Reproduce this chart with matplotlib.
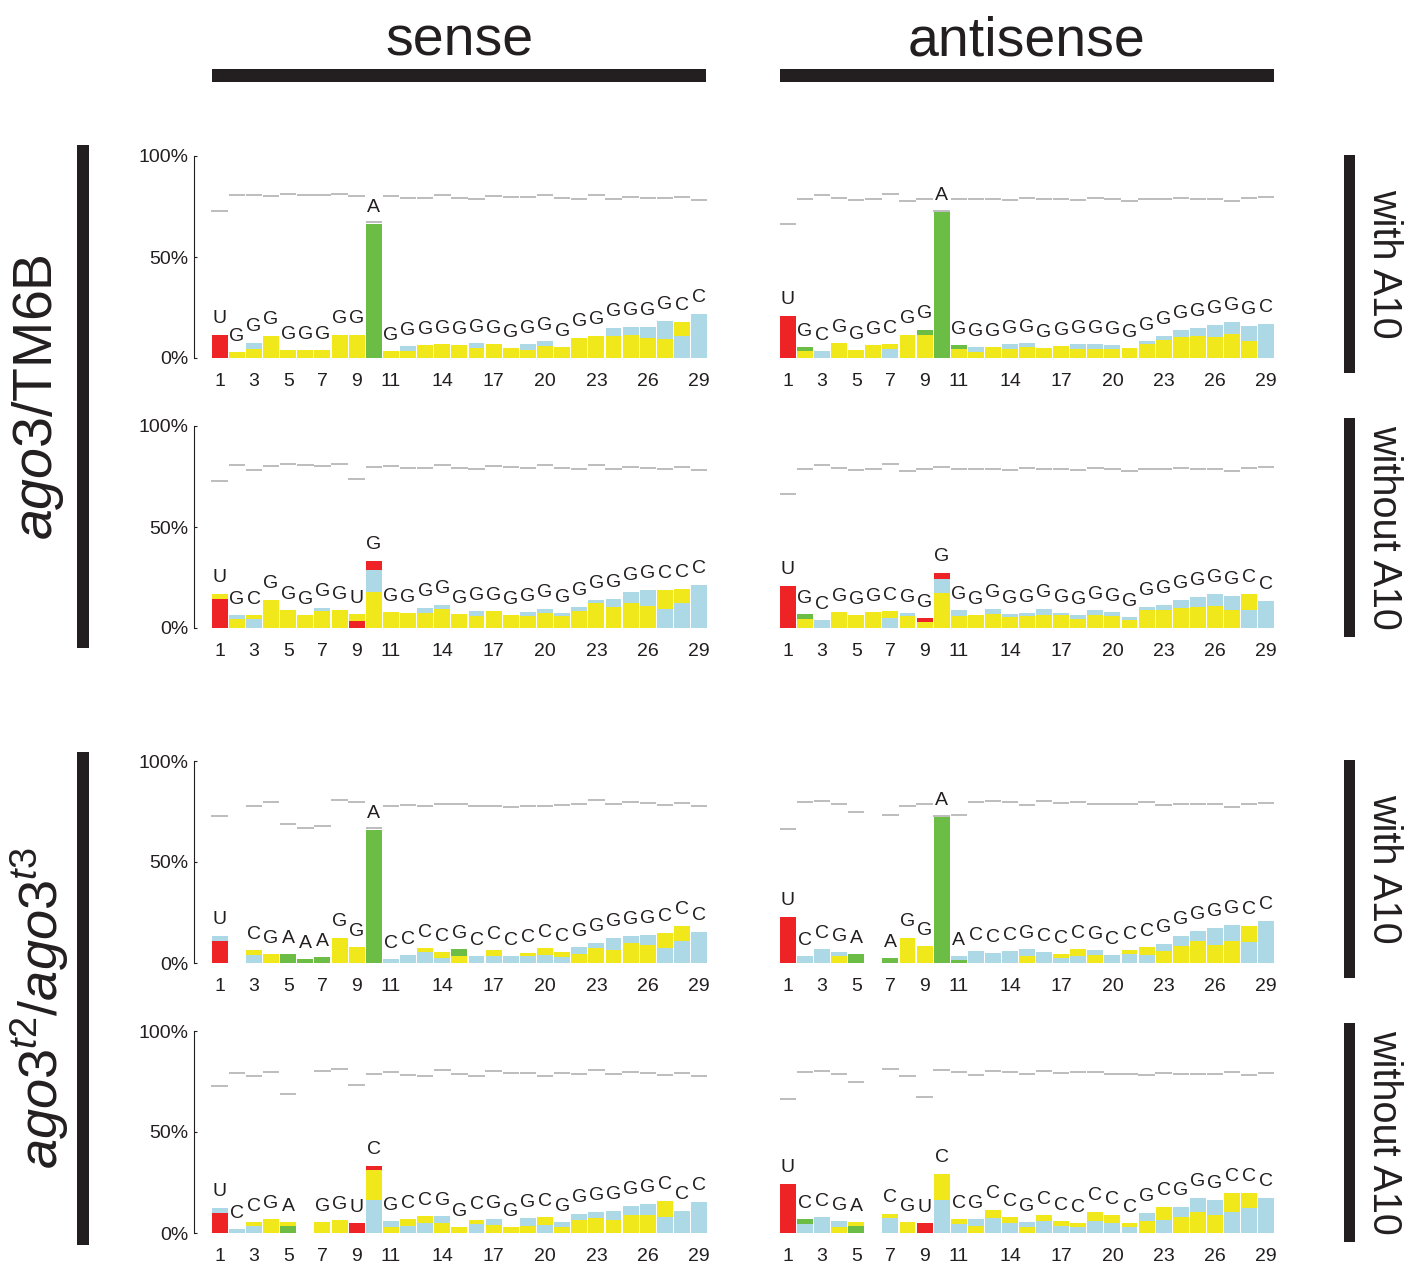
import numpy as np
import matplotlib
matplotlib.use("Agg")
import matplotlib.pyplot as plt
from matplotlib.patches import Rectangle

plt.rcParams['font.family'] = ['Liberation Sans', 'DejaVu Sans']
plt.rcParams['mathtext.fontset'] = 'custom'
plt.rcParams['mathtext.rm'] = 'Liberation Sans'
plt.rcParams['mathtext.it'] = 'Liberation Sans:italic'
plt.rcParams['mathtext.bf'] = 'Liberation Sans:bold'

# positions 1..29
positions = list(range(1, 30))
tick_pos = [1, 3, 5, 7, 9, 11, 14, 17, 20, 23, 26, 29]

# ---- ago3/TM6B, sense, with A10
tm_sw_seq = "UGGGGGGGGAGGGGGGGGGGGGGGGGGCC"
tm_sw_A = [0, 0, 0, 0, 0, 0, 0, 0, 0, 66.4, 0, 0, 0, 0, 0, 0, 0, 0, 0, 0, 0, 0, 0, 0, 0, 0, 0, 0, 0]
tm_sw_C = [0, 0, 3.0, 0, 0, 0, 0, 0, 0, 0, 0, 2.5, 0, 0, 0, 2.5, 0, 0, 3.0, 2.5, 0, 0, 0, 4.0, 3.8, 5.5, 8.8, 10.8, 21.8]
tm_sw_G = [0, 2.8, 4.5, 10.8, 3.8, 3.8, 3.8, 11.3, 11.3, 0, 3.3, 3.3, 6.3, 6.8, 6.3, 4.8, 6.8, 4.8, 3.8, 5.8, 5.3, 9.8, 10.8, 10.8, 11.5, 9.8, 9.5, 7.0, 0]
tm_sw_U = [11.3, 0, 0, 0, 0, 0, 0, 0, 0, 0, 0, 0, 0, 0, 0, 0, 0, 0, 0, 0, 0, 0, 0, 0, 0, 0, 0, 0, 0]
tm_sw_gray = [72.8, 80.9, 80.9, 80.1, 81.1, 80.6, 80.6, 81.4, 80.1, 67.1, 80.2, 79.4, 79.4, 80.7, 79.1, 78.7, 80.4, 79.6, 79.6, 80.9, 79.4, 78.9, 80.9, 78.7, 79.9, 79.4, 79.1, 79.6, 78.1]

# ---- ago3/TM6B, antisense, with A10
tm_aw_seq = "UGCGGGCGGAGGGGGGGGGGGGGGGGGGC"
tm_aw_A = [0, 2.0, 0, 0, 0, 0, 0, 0, 2.5, 72.3, 2.0, 0, 0, 0, 0, 0, 0, 0, 0, 0, 0, 0, 0, 0, 0, 0, 0, 0, 0]
tm_aw_C = [0, 0, 3.3, 0, 0, 0, 4.3, 0, 0, 0, 0, 2.5, 0, 2.5, 2.0, 0, 0, 2.5, 2.5, 2.0, 0, 1.5, 2.0, 3.5, 4.0, 6.0, 6.0, 7.5, 16.8]
tm_aw_G = [0, 3.3, 0, 7.3, 3.8, 6.3, 2.5, 11.3, 11.3, 0, 4.3, 2.8, 5.3, 4.3, 5.3, 4.8, 5.8, 4.3, 4.3, 4.3, 4.8, 6.8, 8.8, 10.3, 10.8, 10.3, 11.8, 8.3, 0]
tm_aw_U = [20.8, 0, 0, 0, 0, 0, 0, 0, 0, 0, 0, 0, 0, 0, 0, 0, 0, 0, 0, 0, 0, 0, 0, 0, 0, 0, 0, 0, 0]
tm_aw_gray = [66.3, 78.6, 80.6, 79.2, 78.2, 78.9, 81.4, 77.7, 78.7, 73.0, 78.7, 78.7, 78.9, 78.2, 79.1, 78.7, 78.6, 78.2, 79.2, 78.7, 77.9, 78.7, 78.7, 79.1, 78.9, 78.9, 77.6, 79.1, 79.6]

# ---- ago3/TM6B, sense, without A10
tm_so_seq = "UGCGGGGGUGGGGGGGGGGGGGGGGGCCC"
tm_so_A = [0] * 29
tm_so_C = [0, 2.0, 4.3, 0, 0, 0, 1.5, 0, 0, 10.9, 0, 0, 2.5, 2.0, 0, 2.5, 0, 0, 2.0, 2.0, 1.5, 2.0, 1.5, 4.0, 5.5, 8.0, 9.5, 12.3, 21.3]
tm_so_G = [2.5, 4.3, 2.0, 13.8, 8.8, 6.3, 8.3, 8.8, 3.2, 17.8, 7.8, 7.3, 7.3, 9.3, 6.8, 5.8, 8.3, 6.3, 5.8, 7.3, 5.8, 8.3, 12.3, 10.3, 12.3, 10.8, 9.3, 7.0, 0]
tm_so_U = [14.3, 0, 0, 0, 0, 0, 0, 0, 3.6, 4.5, 0, 0, 0, 0, 0, 0, 0, 0, 0, 0, 0, 0, 0, 0, 0, 0, 0, 0, 0]
tm_so_gray = [72.8, 80.9, 78.1, 80.1, 81.1, 80.6, 80.4, 81.2, 73.6, 79.6, 80.2, 79.4, 79.4, 80.7, 79.1, 78.7, 80.4, 79.6, 79.4, 80.9, 79.4, 78.9, 80.9, 78.7, 79.9, 79.4, 78.7, 79.6, 78.1]

# ---- ago3/TM6B, antisense, without A10
tm_ao_seq = "UGCGGGCGGGGGGGGGGGGGGGGGGGGCC"
tm_ao_A = [0, 2.5, 0, 0, 0, 0, 0, 0, 0, 0, 0, 0, 0, 0, 0, 0, 0, 0, 0, 0, 0, 0, 0, 0, 0, 0, 0, 0, 0]
tm_ao_C = [0, 0, 3.8, 0, 0, 0, 4.8, 1.5, 0, 7.0, 3.0, 0, 2.5, 1.5, 1.5, 3.0, 1.0, 2.0, 2.5, 2.0, 1.5, 1.5, 2.5, 4.0, 5.0, 6.0, 7.0, 8.8, 13.3]
tm_ao_G = [0, 4.3, 0, 7.8, 6.3, 7.8, 3.5, 5.8, 2.8, 17.3, 5.8, 6.3, 6.8, 5.3, 5.8, 6.3, 6.3, 4.3, 6.3, 5.8, 3.8, 8.8, 8.8, 9.8, 10.3, 10.8, 8.8, 8.0, 0]
tm_ao_U = [20.8, 0, 0, 0, 0, 0, 0, 0, 2.0, 2.9, 0, 0, 0, 0, 0, 0, 0, 0, 0, 0, 0, 0, 0, 0, 0, 0, 0, 0, 0]
tm_ao_gray = [66.3, 78.6, 80.6, 79.2, 78.2, 78.9, 81.4, 77.7, 78.7, 79.9, 78.7, 78.7, 78.9, 78.2, 79.1, 78.7, 78.6, 78.2, 79.2, 78.7, 77.9, 78.7, 78.7, 79.1, 78.9, 78.9, 77.6, 79.1, 79.6]

# ---- ago3 t2/t3, sense, with A10
t_sw_seq = "U CGAAAGGACCCCGCCCCCCGGGGGCCC"
t_sw_A = [0, 0, 0, 0, 4.3, 1.8, 2.8, 0, 0, 65.9, 0, 0, 0, 0, 3.5, 0, 0, 0, 0, 0, 0, 0, 0, 0, 0, 0, 0, 0, 0]
t_sw_C = [2.5, 0, 3.8, 0, 0, 0, 0, 0, 0, 0, 1.8, 3.8, 5.3, 2.3, 0, 3.3, 3.3, 3.3, 3.3, 3.8, 2.8, 3.5, 2.5, 6.0, 3.5, 5.0, 7.3, 10.8, 15.3]
t_sw_G = [0, 0, 2.5, 4.3, 0, 0, 0, 12.3, 7.8, 0, 0, 0, 2.0, 3.0, 3.3, 0, 3.0, 0, 1.5, 3.5, 2.5, 4.3, 7.3, 6.3, 9.8, 8.8, 7.5, 7.5, 0]
t_sw_U = [10.8, 0, 0, 0, 0, 0, 0, 0, 0, 0, 0, 0, 0, 0, 0, 0, 0, 0, 0, 0, 0, 0, 0, 0, 0, 0, 0, 0, 0]
t_sw_gray = [72.6, np.nan, 77.9, 79.9, 68.6, 66.6, 67.8, 80.9, 79.7, 66.6, 77.6, 78.1, 77.6, 78.6, 78.9, 77.7, 77.7, 77.4, 77.7, 77.7, 78.2, 78.7, 80.6, 78.6, 79.6, 79.1, 78.4, 79.2, 77.7]

# ---- ago3 t2/t3, antisense, with A10
t_aw_seq = "UCCGA AGGAACCCGCCCGCCCGGGGGCC"
t_aw_A = [0, 0, 0, 0, 4.3, 0, 2.3, 0, 0, 72.3, 1.3, 0, 0, 0, 0, 0, 0, 0, 0, 0, 0, 0, 0, 0, 0, 0, 0, 0, 0]
t_aw_C = [0, 3.3, 6.8, 2.0, 0, 0, 0, 0, 0, 0, 2.0, 5.8, 4.8, 5.8, 3.5, 5.3, 2.3, 3.3, 2.5, 3.8, 4.3, 3.8, 3.5, 5.0, 5.0, 8.5, 8.0, 10.3, 20.8]
t_aw_G = [0, 0, 0, 3.3, 0, 0, 0, 12.3, 8.3, 0, 0, 0, 0, 0, 3.3, 0, 2.0, 3.5, 3.8, 0, 2.0, 4.0, 5.8, 8.3, 10.8, 8.8, 10.8, 8.0, 0]
t_aw_U = [22.8, 0, 0, 0, 0, 0, 0, 0, 0, 0, 0, 0, 0, 0, 0, 0, 0, 0, 0, 0, 0, 0, 0, 0, 0, 0, 0, 0, 0]
t_aw_gray = [66.1, 79.7, 80.2, 78.9, 74.6, np.nan, 73.3, 77.7, 78.7, 73.0, 73.3, 79.7, 80.4, 79.6, 78.4, 80.2, 79.2, 79.7, 78.7, 78.7, 78.7, 79.7, 78.4, 78.7, 78.7, 78.6, 77.4, 78.7, 79.4]

# ---- ago3 t2/t3, sense, without A10
t_so_seq = "UCCGA GGUCGCCGGCGGGCGGGGGGCCC"
t_so_A = [0, 0, 0, 0, 3.3, 0, 0, 0, 0, 0, 0, 0, 0, 0, 0, 0, 0, 0, 0, 0, 0, 0, 0, 0, 0, 0, 0, 0, 0]
t_so_C = [2.5, 1.8, 3.3, 0, 0, 0, 0, 0, 0, 16.4, 3.0, 3.3, 4.8, 3.5, 0, 4.3, 3.0, 0, 4.0, 3.8, 2.5, 3.0, 3.0, 4.5, 4.5, 5.5, 7.8, 10.8, 15.3]
t_so_G = [0, 0, 2.0, 6.8, 2.0, 0, 5.3, 6.3, 0, 14.8, 2.8, 3.5, 3.5, 4.8, 2.8, 2.0, 3.8, 2.8, 3.3, 4.0, 2.8, 6.3, 7.3, 6.3, 8.8, 8.8, 8.0, 0, 0]
t_so_U = [9.8, 0, 0, 0, 0, 0, 0, 0, 4.8, 2.0, 0, 0, 0, 0, 0, 0, 0, 0, 0, 0, 0, 0, 0, 0, 0, 0, 0, 0, 0]
t_so_gray = [72.6, 79.4, 77.9, 79.9, 68.6, np.nan, 80.1, 81.1, 73.3, 78.6, 79.9, 78.1, 77.6, 80.6, 78.9, 77.7, 80.1, 79.4, 79.2, 77.9, 79.1, 78.6, 80.6, 78.6, 79.6, 79.1, 78.4, 79.2, 77.7]

# ---- ago3 t2/t3, antisense, without A10
t_ao_seq = "UCCGA CGUCCGCCGCCCCCCGCGGGCCC"
t_ao_A = [0, 2.5, 0, 0, 3.3, 0, 0, 0, 0, 0, 0, 0, 0, 0, 0, 0, 0, 0, 0, 0, 0, 0, 0, 0, 0, 0, 0, 0, 0]
t_ao_C = [0, 4.3, 7.8, 3.0, 0, 0, 7.3, 0, 0, 16.4, 4.3, 3.5, 7.3, 4.8, 2.5, 5.8, 3.3, 2.8, 5.8, 4.8, 2.8, 4.0, 6.3, 5.0, 7.0, 7.5, 10.3, 12.3, 17.3]
t_ao_G = [0, 0, 0, 2.8, 2.0, 0, 2.0, 5.3, 0, 12.8, 2.5, 3.3, 4.0, 3.0, 2.8, 3.0, 2.5, 2.0, 4.5, 4.0, 2.0, 5.8, 6.5, 7.8, 10.3, 8.8, 9.5, 7.5, 0]
t_ao_U = [24.3, 0, 0, 0, 0, 0, 0, 0, 4.8, 0, 0, 0, 0, 0, 0, 0, 0, 0, 0, 0, 0, 0, 0, 0, 0, 0, 0, 0, 0]
t_ao_gray = [66.1, 79.9, 80.2, 78.9, 74.6, np.nan, 81.2, 77.7, 67.3, 80.6, 79.9, 78.4, 80.4, 79.6, 78.6, 80.2, 79.2, 79.7, 79.6, 78.9, 78.9, 78.2, 79.4, 78.7, 78.7, 78.6, 79.6, 78.4, 79.2]

nuc_colors = {'A': '#6CBD45', 'C': '#ADD8E6', 'G': '#F1E81B', 'U': '#EE2326'}
gray_col = '#BDBDBD'
ink = '#231F20'

W, H = 1406, 1267
fig = plt.figure(figsize=(W / 100, H / 100), dpi=100)


def add_px_axes(x0, x1, ytop, ybot):
    return fig.add_axes([x0 / W, 1 - ybot / H, (x1 - x0) / W, (ybot - ytop) / H])


def draw_panel(ax, seq, A, C, G, U, gray, left):
    vals = {'A': A, 'C': C, 'G': G, 'U': U}
    for i, x in enumerate(positions):
        first = seq[i]
        if first == ' ':
            continue
        # letter's nucleotide at the bottom, the rest stacked largest first
        others = [n for n in 'ACGU' if n != first and vals[n][i] > 0]
        others.sort(key=lambda n: -vals[n][i])
        bottom = 0
        for n in [first] + others:
            ax.bar(x, vals[n][i], bottom=bottom, width=0.93, color=nuc_colors[n], linewidth=0)
            bottom += vals[n][i]
        ax.text(x, bottom + 5.8, first, ha='center', va='baseline', fontsize=14, color=ink)
    g = np.array(gray, dtype=float)
    ok = ~np.isnan(g)
    xs = np.array(positions)[ok]
    ax.hlines(g[ok], xs - 0.48, xs + 0.48, color=gray_col, lw=1.4, zorder=3)

    ax.set_xlim(-0.5, 29.5)
    ax.set_ylim(0, 100)
    ax.set_xticks(tick_pos)
    ax.set_xticklabels([str(t) for t in tick_pos])
    ax.tick_params(axis='x', length=0, pad=11, labelsize=14, labelcolor=ink)
    for s in ['top', 'right', 'bottom']:
        ax.spines[s].set_visible(False)
    if left:
        ax.spines['left'].set_linewidth(0.8)
        ax.spines['left'].set_color(ink)
        ax.set_yticks([0, 50, 100])
        ax.set_yticklabels(['0%', '50%', '100%'])
        ax.tick_params(axis='y', direction='in', length=2.5, width=0.8, pad=4,
                       labelsize=14, labelcolor=ink, color=ink)
    else:
        ax.spines['left'].set_visible(False)
        ax.set_yticks([])
    ax.patch.set_alpha(0)


rows = [(156, 358), (426, 628), (761, 963), (1031, 1233)]
cols = [(194, 707.7), (762.3, 1274.7)]

panel_data = [
    (0, 0, tm_sw_seq, tm_sw_A, tm_sw_C, tm_sw_G, tm_sw_U, tm_sw_gray),
    (0, 1, tm_aw_seq, tm_aw_A, tm_aw_C, tm_aw_G, tm_aw_U, tm_aw_gray),
    (1, 0, tm_so_seq, tm_so_A, tm_so_C, tm_so_G, tm_so_U, tm_so_gray),
    (1, 1, tm_ao_seq, tm_ao_A, tm_ao_C, tm_ao_G, tm_ao_U, tm_ao_gray),
    (2, 0, t_sw_seq, t_sw_A, t_sw_C, t_sw_G, t_sw_U, t_sw_gray),
    (2, 1, t_aw_seq, t_aw_A, t_aw_C, t_aw_G, t_aw_U, t_aw_gray),
    (3, 0, t_so_seq, t_so_A, t_so_C, t_so_G, t_so_U, t_so_gray),
    (3, 1, t_ao_seq, t_ao_A, t_ao_C, t_ao_G, t_ao_U, t_ao_gray),
]

for r, c, seq, A, C, G, U, gray in panel_data:
    ax = add_px_axes(cols[c][0], cols[c][1], rows[r][0], rows[r][1])
    draw_panel(ax, seq, A, C, G, U, gray, left=(c == 0))

# overlay for labels and black bars (pixel coords)
ov = fig.add_axes([0, 0, 1, 1])
ov.set_xlim(0, W)
ov.set_ylim(H, 0)
ov.axis('off')
ov.patch.set_alpha(0)

for x0, y0, w, h in [(212, 69, 494, 13), (780, 69, 494, 13),
                     (77, 145, 12, 503), (77, 752, 12, 493),
                     (1344, 155, 11, 218), (1344, 418, 11, 219),
                     (1344, 760, 11, 218), (1344, 1023, 11, 219)]:
    ov.add_patch(Rectangle((x0, y0), w, h, color=ink, lw=0))

ov.text(459, 55, 'sense', ha='center', va='baseline', fontsize=40, color=ink)
ov.text(1027, 55, 'antisense', ha='center', va='baseline', fontsize=40, color=ink)

ov.text(38, 397, r'$\mathit{ago3}$/TM6B', rotation=90, ha='center', va='center',
        fontsize=40, color=ink)
ov.text(40, 1008, r'$\mathit{ago3}^{\mathit{t2}}/\mathit{ago3}^{\mathit{t3}}$', rotation=90,
        ha='center', va='center', fontsize=39, color=ink)

for yc, lab in [(264, 'with A10'), (527, 'without A10'), (869, 'with A10'), (1132, 'without A10')]:
    ov.text(1384, yc, lab, rotation=-90, ha='center', va='center', fontsize=28.5, color=ink)

fig.savefig('out.png', dpi=100)
